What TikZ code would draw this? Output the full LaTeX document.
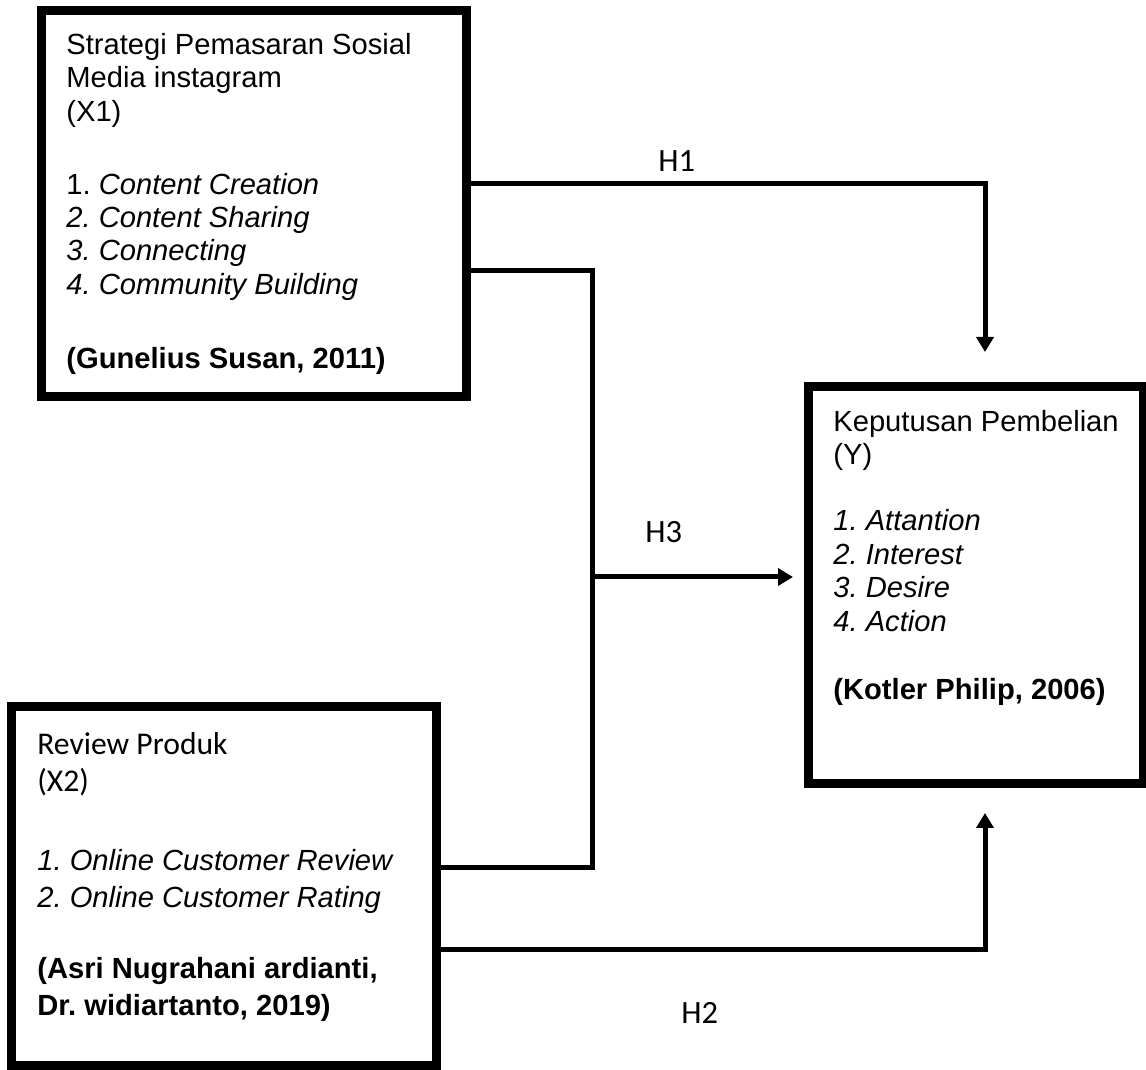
\documentclass[tikz,border=0pt]{standalone}
\usepackage{fontspec}
\setmainfont{Liberation Sans}
\newfontfamily\calibri{Carlito}
\frenchspacing
\usetikzlibrary{arrows.meta, positioning}

\begin{document}
\begin{tikzpicture}[
    x=0.02cm, y=-0.02cm,
    varbox/.style={draw, line width=0.18cm, minimum width=8.5cm, minimum height=7.2cm, inner sep=0pt},
    boxtext/.style={anchor=north west, inner sep=0pt, align=left, font=\fontsize{16.6}{19}\selectfont},
    link/.style={line width=0.1cm},
    arrowlink/.style={link, -{Triangle[length=0.3cm, width=0.34cm]}},
    hlabel/.style={anchor=base west, inner sep=0pt, font=\calibri\fontsize{18.5}{22}\selectfont}
]
    \useasboundingbox (0,0) rectangle (1146,1070);

    % variable boxes
    \node[varbox, minimum height=7.73cm] (x1) at (254,203.75) {};
    \node[varbox] (x2) at (224,886) {};
    \node[varbox, minimum width=6.71cm, minimum height=7.94cm] (y) at (976.25,585) {};

    \node[boxtext] (x1txt) at (66,33) {Strategi Pemasaran Sosial\\ Media instagram\\ (X1)\\[22.5pt]
        1. \textit{Content Creation}\\ \textit{2. Content Sharing}\\ \textit{3. Connecting}\\ \textit{4. Community Building}\\[23pt]
        \textbf{(Gunelius Susan, 2011)}};
    \node[boxtext, font=\fontsize{16.6}{21}\selectfont] (x2txt) at (37,732) {{\calibri\fontsize{18}{21.6}\selectfont Review Produk}\\ {\calibri\fontsize{18}{21.6}\selectfont (X2)}\\[24pt]
        \textit{1. Online Customer Review}\\ \textit{2. Online Customer Rating}\\[19.5pt]
        \textbf{(Asri Nugrahani ardianti,}\\ \textbf{Dr. widiartanto, 2019)}};
    \node[boxtext] (ytxt) at (833,410) {Keputusan Pembelian\\ (Y)\\[18.6pt]
        \textit{1. Attantion}\\ \textit{2. Interest}\\ \textit{3. Desire}\\ \textit{4. Action}\\[19.7pt]
        \textbf{(Kotler Philip, 2006)}};

    % connectors
    \coordinate (h1bend) at (985,184);
    \coordinate (h1tip) at (985,352);
    \coordinate (splittop) at (592,271);
    \coordinate (splitbot) at (592,867);
    \coordinate (h3from) at (592,577);
    \coordinate (h3tip) at (793,577);
    \coordinate (h2bend) at (985,949);
    \coordinate (h2tip) at (985,813);

    \draw[arrowlink] (x1.east |- h1bend) -- (h1bend) -- (h1tip);
    \draw[link] (x1.east |- splittop) -- (splittop) -- (splitbot) -- (x2.east |- splitbot);
    \draw[arrowlink] (h3from) -- (h3tip);
    \draw[arrowlink] (x2.east |- h2bend) -- (h2bend) -- (h2tip);

    \node[hlabel] (h1lbl) at (658,172) {H1};
    \node[hlabel] (h3lbl) at (645,543) {H3};
    \node[hlabel] (h2lbl) at (681,1023) {H2};

\end{tikzpicture}
\end{document}
